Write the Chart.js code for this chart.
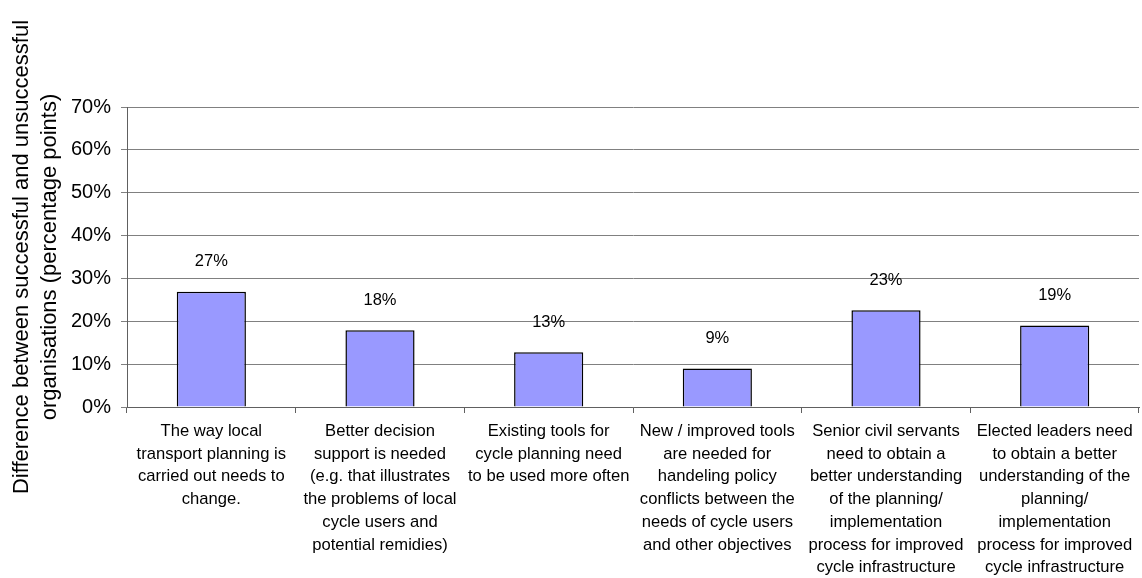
<!DOCTYPE html>
<html>
<head>
<meta charset="utf-8">
<script src="https://cdn.jsdelivr.net/npm/chart.js@4"></script>
<style>
    html, body { margin: 0; padding: 0; background: #fff; }
    #wrap { width: 1142px; height: 578px; }
</style>
</head>
<body>
<div id="wrap"><canvas id="grafico" width="1142" height="578"></canvas></div>
<script>
const categorias = [
    ['The way local', 'transport planning is', 'carried out needs to', 'change.'],
    ['Better decision', 'support is needed', '(e.g. that illustrates', 'the problems of local', 'cycle users and', 'potential remidies)'],
    ['Existing tools for', 'cycle planning need', 'to be used more often'],
    ['New / improved tools', 'are needed for', 'handeling policy', 'conflicts between the', 'needs of cycle users', 'and other objectives'],
    ['Senior civil servants', 'need to obtain a', 'better understanding', 'of the planning/', 'implementation', 'process for improved', 'cycle infrastructure'],
    ['Elected leaders need', 'to obtain a better', 'understanding of the', 'planning/', 'implementation', 'process for improved', 'cycle infrastructure']
];
const diferencas = [26.9, 17.9, 12.8, 9.0, 22.6, 19.0];
const tituloY = ['Difference between successful and unsuccessful', 'organisations (percentage points)'];
const FONTE = "'Liberation Sans', Arial, sans-serif";

// rótulos de valor acima das barras
const rotulos = {
    id: 'rotulos',
    afterDatasetsDraw(chart) {
        const ctx = chart.ctx;
        const meta = chart.getDatasetMeta(0);
        ctx.save();
        ctx.font = `16.5px ${FONTE}`;
        ctx.fillStyle = '#000';
        ctx.textAlign = 'center';
        ctx.textBaseline = 'middle';
        meta.data.forEach((bar, i) => {
            ctx.fillText(Math.round(diferencas[i]) + '%', bar.x, bar.y - 30);
        });
        ctx.restore();
    }
};

new Chart(document.getElementById('grafico').getContext('2d'), {
    type: 'bar',
    data: {
        labels: categorias,
        datasets: [{
            data: diferencas,
            backgroundColor: '#9999FF',
            borderColor: '#000',
            borderWidth: 1.5,
            barPercentage: 0.41,
            categoryPercentage: 1
        }]
    },
    options: {
        responsive: false,
        animation: false,
        layout: { padding: { top: 107, right: 3, left: 0, bottom: 0 } },
        plugins: { legend: { display: false }, tooltip: { enabled: false } },
        scales: {
            x: {
                afterFit: s => { s.height = 171; },
                grid: { offset: true, drawOnChartArea: false, drawTicks: true, tickLength: 6, color: '#606060' },
                border: { color: '#606060', width: 1 },
                ticks: {
                    autoSkip: false, maxRotation: 0, minRotation: 0, padding: 7,
                    color: '#000',
                    font: { family: FONTE, size: 16.6, lineHeight: 1.37 }
                }
            },
            y: {
                min: 0, max: 70,
                afterFit: s => { s.width = 127; },
                grid: { color: '#808080', lineWidth: 1, tickLength: 6 },
                border: { color: '#606060', width: 1 },
                ticks: {
                    stepSize: 10, padding: 10, color: '#000',
                    font: { family: FONTE, size: 20 },
                    callback: v => v + '%'
                },
                title: {
                    display: true,
                    text: tituloY,
                    color: '#000',
                    padding: { top: 8, bottom: 0 },
                    font: { family: FONTE, size: 22, lineHeight: 1.27 }
                }
            }
        }
    },
    plugins: [rotulos]
});
</script>
</body>
</html>
